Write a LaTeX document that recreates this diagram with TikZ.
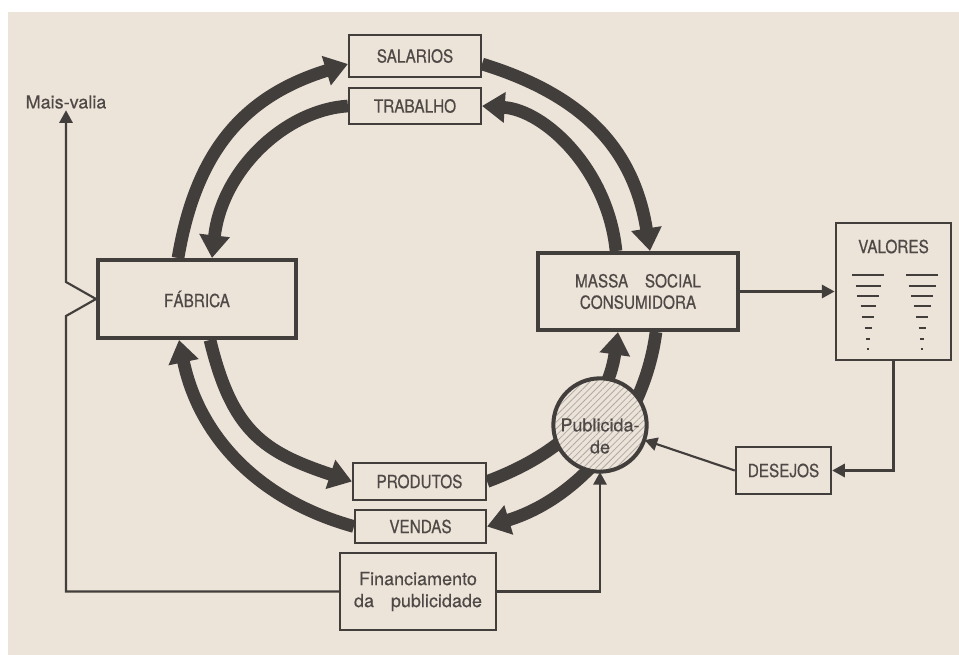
\documentclass[tikz,border=0pt]{standalone}
\usepackage{fontspec}
\setmainfont{TeX Gyre Heros}
\newfontfamily\capsfont[FakeStretch=0.85,FakeBold=0.6]{TeX Gyre Heros}
\newfontfamily\lowfont[FakeBold=0.4]{TeX Gyre Heros}
\usetikzlibrary{arrows.meta,calc,patterns.meta}
\definecolor{paper}{RGB}{236,227,217}
\definecolor{ink}{RGB}{66,62,60}
\definecolor{txt}{RGB}{78,73,70}
\definecolor{hatch}{RGB}{175,169,165}
\pgfdeclarelayer{paper}
\pgfdeclarelayer{flows}
\pgfsetlayers{paper,flows,main}
\tikzset{
  capstext/.style={text=txt, font=\capsfont\fontsize{13.5pt}{16pt}\selectfont},
  lowtext/.style={text=txt, font=\lowfont\fontsize{13.5pt}{16.5pt}\selectfont},
  box/.style={draw=ink, fill=paper, line width=1.6pt, inner sep=0pt, capstext},
  bigbox/.style={box, line width=3pt},
  flow/.style={draw=ink, line width=9.5pt, -{Triangle[length=17pt,width=22pt]}},
  link/.style={draw=ink, line width=1.6pt, -{Triangle[length=9.5pt,width=10pt]}},
}
\begin{document}
\begin{tikzpicture}[x=0.75pt,y=-0.75pt]
\useasboundingbox (0,0) rectangle (959,655);
\begin{pgfonlayer}{paper}
  \fill[white] (0,0) rectangle (959,655);
  \fill[paper] (8,12) rectangle (959,655);
\end{pgfonlayer}

% boxes
\node[box, minimum width=99pt, minimum height=31.5pt] (sal) at (415,56) {SALARIOS};
\node[box, minimum width=99pt, minimum height=27pt] (trab) at (415,106) {TRABALHO};
\node[bigbox, minimum width=148.5pt, minimum height=58.5pt] (fab) at (197,299) {FÁBRICA};
\node[bigbox, minimum width=150pt, minimum height=57.75pt, align=center] (mass) at (638,291.5)
  {\makebox[94.5pt][s]{MASSA SOCIAL}\\CONSUMIDORA};
\node[box, line width=2.2pt, minimum width=86.25pt, minimum height=102.75pt] (val) at (893.5,291.5) {};
\node[capstext] (valt) at ($(val.north)+(0,25)$) {VALORES};
\foreach \dy/\wl/\wr in {-16.5/32/32, -5.5/25/27, 4.5/22/22, 14.5/15/17, 25.5/12/12, 36.5/7/7, 47.5/4/4, 57.5/2/2}{
  \draw[ink, line width=1.5pt] ($(val.center)+(-25.5-\wl/2,\dy)$) -- ++(\wl,0);
  \draw[ink, line width=1.5pt] ($(val.center)+(28.5-\wr/2,\dy)$) -- ++(\wr,0);
}
\node[box, minimum width=99.75pt, minimum height=27.75pt] (prod) at (419.5,481.5) {PRODUTOS};
\node[box, minimum width=98.25pt, minimum height=24.75pt] (vend) at (420.5,526.5) {VENDAS};
\node[box, line width=1.8pt, minimum width=117pt, minimum height=57.75pt, lowtext, align=center] (fin) at (418,591.5)
  {Financiamento\\\makebox[96pt][s]{da publicidade}};
\node[box, line width=1.8pt, minimum width=71.25pt, minimum height=35.25pt] (des) at (783.5,470.5) {DESEJOS};
\node[circle, draw=ink, line width=3pt, minimum size=70pt, inner sep=0pt,
      preaction={fill=paper}, pattern={Lines[angle=45,distance=3.5pt,line width=0.6pt]},
      pattern color=hatch] (pub) at (600,425) {};
\node[lowtext, align=center] (pubt) at ($(pub)+(0,11)$) {Publicida-\\de};
\node[lowtext, inner sep=1pt] (mv) at (66,102) {Mais-valia};

% circulation of wages, labour, products and sales
\begin{pgfonlayer}{flows}
  \draw[flow] ($(fab.north west)+(82,0)$) .. controls (196,151) and (244,96) .. ($(sal.west)+(0,8)$);
  \draw[flow] (trab.west) .. controls (285,110) and (222,170) .. ($(fab.north west)+(116,0)$);
  \draw[flow] ($(sal.east)+(0,8)$) .. controls (586,96) and (634,151) .. ($(mass.north west)+(114,0)$);
  \draw[flow] ($(mass.north west)+(80,0)$) .. controls (608,170) and (545,110) .. (trab.east);
  \draw[flow] ($(fab.south west)+(114,0)$) .. controls (232,431) and (263,452) .. (prod.west);
  \draw[flow] (vend.west) .. controls (258,500) and (199,436) .. ($(fab.south west)+(83,0)$);
  \draw[flow] (prod.east) .. controls (561,454) and (607,409) .. ($(mass.south west)+(82,0)$);
  \draw[flow] ($(mass.south west)+(120,0)$) .. controls (644,424) and (578,499) .. (vend.east);
\end{pgfonlayer}

% thin connectors
\draw[link] (mass.east) -- (val.west);
\draw[link] (val.south) |- (des.east);
\draw[link] (des.west) -- (pub);
\draw[link] (fin.east) -| (pub.south);
\draw[link] (fin.west) -| ($(fab.west)+(-30,17)$) -- (fab.west) -- ($(fab.west)+(-30,-17)$) -- (mv.south);
\end{tikzpicture}
\end{document}
